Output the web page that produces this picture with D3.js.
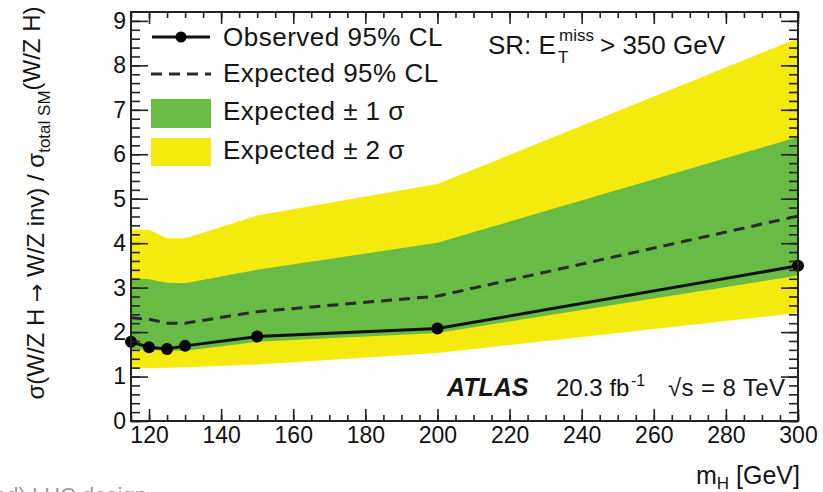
<!DOCTYPE html>
<html>
<head>
<meta charset="utf-8">
<script src="https://cdnjs.cloudflare.com/ajax/libs/d3/7.8.5/d3.min.js"></script>
<style>
  html, body { margin: 0; padding: 0; background: #fff; }
  svg { display: block; font-family: "Liberation Sans", Arial, Helvetica, sans-serif; }
</style>
</head>
<body>
<svg id="chart" width="823" height="492"></svg>
<script>
// ---- data ----
const mass      = [115, 120, 125, 130, 150, 200, 300];
const observed  = [1.78, 1.66, 1.62, 1.69, 1.90, 2.08, 3.49];
const expected  = [2.32, 2.29, 2.20, 2.20, 2.46, 2.81, 4.61];
const plus1     = [3.21, 3.19, 3.11, 3.10, 3.40, 4.01, 6.39];
const minus1    = [1.62, 1.60, 1.58, 1.58, 1.78, 1.98, 3.27];
const plus2     = [4.31, 4.30, 4.11, 4.11, 4.62, 5.33, 8.61];
const minus2    = [1.19, 1.19, 1.20, 1.21, 1.27, 1.53, 2.43];
const xTickLabels = [120, 140, 160, 180, 200, 220, 240, 260, 280, 300];
const yTickLabels = [0, 1, 2, 3, 4, 5, 6, 7, 8, 9];
const legendLabels = ["Observed 95% CL", "Expected 95% CL", "Expected \u00b1 1 \u03c3", "Expected \u00b1 2 \u03c3"];

const rows = mass.map((m, i) => ({m, obs: observed[i], exp: expected[i], p1: plus1[i], m1: minus1[i], p2: plus2[i], m2: minus2[i]}));

const W = 823, H = 492;
const margin = {left: 131, right: 25, top: 12, bottom: 71};
const iw = W - margin.left - margin.right, ih = H - margin.top - margin.bottom;

const svg = d3.select("#chart");
const x = d3.scaleLinear().domain([115, 300]).range([0, iw]);
const y = d3.scaleLinear().domain([0, 9.2]).range([ih, 0]);

const YELLOW = "#f4ea0e", GREEN = "#68bc45";

svg.append("defs").append("clipPath").attr("id", "clip")
  .append("rect").attr("width", iw).attr("height", ih);

const g = svg.append("g").attr("transform", `translate(${margin.left},${margin.top})`);
const plot = g.append("g").attr("clip-path", "url(#clip)");

const area2 = d3.area().x(d => x(d.m)).y0(d => y(d.m2)).y1(d => y(d.p2));
const area1 = d3.area().x(d => x(d.m)).y0(d => y(d.m1)).y1(d => y(d.p1));
plot.append("path").datum(rows).attr("d", area2).attr("fill", YELLOW);
plot.append("path").datum(rows).attr("d", area1).attr("fill", GREEN);

const lineExp = d3.line().x(d => x(d.m)).y(d => y(d.exp));
const lineObs = d3.line().x(d => x(d.m)).y(d => y(d.obs));
plot.append("path").datum(rows).attr("d", lineExp)
  .attr("fill", "none").attr("stroke", "#2a2a2a").attr("stroke-width", 3).attr("stroke-dasharray", "11,7");
plot.append("path").datum(rows).attr("d", lineObs)
  .attr("fill", "none").attr("stroke", "#111").attr("stroke-width", 3);
g.selectAll("circle.obs").data(rows).join("circle").attr("class", "obs")
  .attr("cx", d => x(d.m)).attr("cy", d => y(d.obs)).attr("r", 6).attr("fill", "#000");

// ---- axes ----
const FONT = 23;
const xMinor = d3.range(115, 301, 5);
const yMinor = d3.range(0, 9.2, 0.2);
function styleAxis(sel) {
  sel.select(".domain").remove();
  sel.selectAll("line").attr("stroke", "#222").attr("stroke-width", 1.6);
  sel.selectAll("text").attr("font-size", FONT).attr("fill", "#111")
     .attr("font-family", "Liberation Sans, Arial, sans-serif");
}
// bottom
g.append("g").attr("transform", `translate(0,${ih})`)
  .call(d3.axisBottom(x).tickValues(xMinor).tickSize(-6).tickFormat("")).call(styleAxis);
g.append("g").attr("transform", `translate(0,${ih})`)
  .call(d3.axisBottom(x).tickValues(xTickLabels).tickSize(-12).tickPadding(6).tickFormat(d3.format("d"))).call(styleAxis);
// top
g.append("g")
  .call(d3.axisTop(x).tickValues(xMinor).tickSize(-6).tickFormat("")).call(styleAxis);
g.append("g")
  .call(d3.axisTop(x).tickValues(xTickLabels).tickSize(-12).tickFormat("")).call(styleAxis);
// left
g.append("g")
  .call(d3.axisLeft(y).tickValues(yMinor).tickSize(-9).tickFormat("")).call(styleAxis);
g.append("g")
  .call(d3.axisLeft(y).tickValues(yTickLabels).tickSize(-17).tickPadding(5).tickFormat(d3.format("d"))).call(styleAxis);
// right
g.append("g").attr("transform", `translate(${iw},0)`)
  .call(d3.axisRight(y).tickValues(yMinor).tickSize(-9).tickFormat("")).call(styleAxis);
g.append("g").attr("transform", `translate(${iw},0)`)
  .call(d3.axisRight(y).tickValues(yTickLabels).tickSize(-17).tickFormat("")).call(styleAxis);

// frame
g.append("rect").attr("width", iw).attr("height", ih)
  .attr("fill", "none").attr("stroke", "#222").attr("stroke-width", 2);

// ---- legend ----
const lg = svg.append("g");
lg.append("line").attr("x1", 152).attr("x2", 210).attr("y1", 37).attr("y2", 37)
  .attr("stroke", "#111").attr("stroke-width", 3);
lg.append("circle").attr("cx", 181).attr("cy", 37).attr("r", 5.5).attr("fill", "#000");
lg.append("line").attr("x1", 151).attr("x2", 211).attr("y1", 74).attr("y2", 74)
  .attr("stroke", "#2a2a2a").attr("stroke-width", 3).attr("stroke-dasharray", "11,7");
lg.append("rect").attr("x", 151).attr("y", 99).attr("width", 60).attr("height", 29).attr("fill", GREEN);
lg.append("rect").attr("x", 151).attr("y", 138).attr("width", 60).attr("height", 28).attr("fill", YELLOW);
const legY = [46, 82, 120, 159];
lg.selectAll("text.leg").data(legendLabels).join("text").attr("class", "leg")
  .attr("x", 223).attr("y", (d, i) => legY[i]).attr("font-size", 26).attr("letter-spacing", 0.5)
  .attr("fill", "#151515").text(d => d);

// ---- annotations ----
const ann = svg.append("g").attr("fill", "#151515");
ann.append("text").attr("x", 488).attr("y", 54).attr("font-size", 26).text("SR: E");
ann.append("text").attr("x", 559).attr("y", 41).attr("font-size", 17).text("miss");
ann.append("text").attr("x", 558).attr("y", 63).attr("font-size", 17).text("T");
ann.append("text").attr("x", 600).attr("y", 54).attr("font-size", 26).text("> 350 GeV");

ann.append("text").attr("x", 447).attr("y", 396).attr("font-size", 25)
  .attr("font-weight", "bold").attr("font-style", "italic").text("ATLAS");
ann.append("text").attr("x", 556).attr("y", 396).attr("font-size", 24).text("20.3 fb");
ann.append("text").attr("x", 631).attr("y", 386).attr("font-size", 16).text("-1");
ann.append("text").attr("x", 668).attr("y", 396).attr("font-size", 24).attr("letter-spacing", 0.4).text("\u221as = 8 TeV");

// x title
const xt = ann.append("text").attr("x", 800).attr("y", 484).attr("font-size", 25).attr("text-anchor", "end");
xt.append("tspan").text("m");
xt.append("tspan").attr("dy", 5).attr("font-size", 17).text("H");
xt.append("tspan").attr("dy", -5).text(" [GeV]");

// y title
const yt = ann.append("text").attr("transform", "translate(44,203) rotate(-90)")
  .attr("text-anchor", "middle").attr("font-size", 24);
yt.append("tspan").text("\u03c3(W/Z H ");
yt.append("tspan").attr("font-family", "DejaVu Sans").attr("font-size", 22).text("\u2192");
yt.append("tspan").text(" W/Z inv) / \u03c3");
yt.append("tspan").attr("dy", 6).attr("font-size", 17).text("total SM");
yt.append("tspan").attr("dy", -10).text("(W/Z H)");

// cropped caption remnant at bottom-left
svg.append("text").attr("x", -6).attr("y", 503).attr("font-size", 22).attr("fill", "#9a9a9a")
  .text("ed) LHC design");
</script>
</body>
</html>
